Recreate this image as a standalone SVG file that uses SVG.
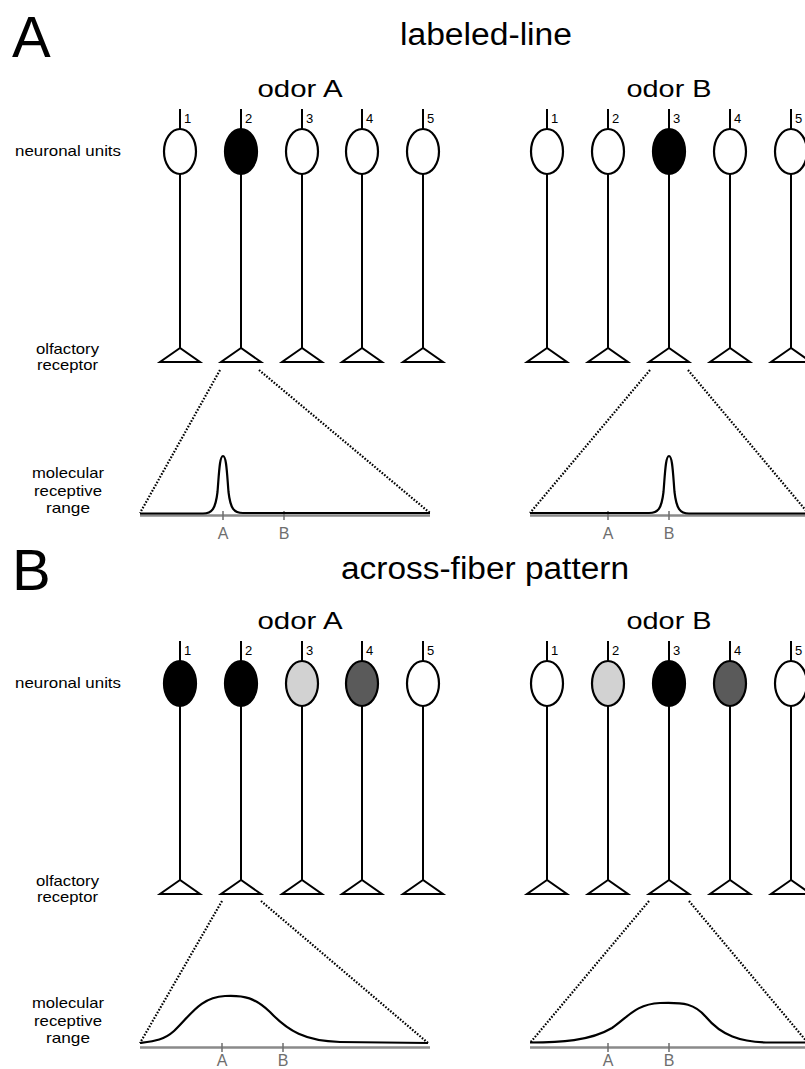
<svg xmlns="http://www.w3.org/2000/svg" xmlns:xlink="http://www.w3.org/1999/xlink" width="805" height="1069" viewBox="0 0 805 1069">
<style>
text{font-family:"Liberation Sans",Arial,sans-serif;fill:#000}
.big{font-size:58px}
.title{font-size:31px}
.odor{font-size:24px;text-anchor:middle}
.lbl{font-size:15px;text-anchor:middle}
.num{font-size:13px}
.tick{font-size:16px;fill:#6e6e6e;text-anchor:middle}
.ln{stroke:#000;stroke-width:2;fill:none}
.tri{stroke:#000;stroke-width:2;fill:#fff;stroke-linejoin:miter}
.cell{stroke:#000;stroke-width:2.2}
.w{fill:#fff}.k{fill:#000}.lg{fill:#d2d2d2}.dg{fill:#5a5a5a}
.axis{stroke:#8a8a8a;stroke-width:2.5;fill:none}
.tk{stroke:#6e6e6e;stroke-width:1.5}
.curve{stroke:#000;stroke-width:2.2;fill:none;stroke-linejoin:round}
.dot{stroke:#000;stroke-width:2.2;stroke-dasharray:1.6 1.6;fill:none}
</style>
<defs>
<g id="nrn">
<line class="ln" x1="0" y1="109" x2="0" y2="348"/>
<polygon class="tri" points="0,348 -20,362 20,362"/>
</g>
</defs>

<!-- Panel labels and titles -->
<text class="big" x="12" y="57">A</text>
<text class="title" x="400" y="45" textLength="172" lengthAdjust="spacingAndGlyphs">labeled-line</text>
<text class="big" x="12" y="590">B</text>
<text class="title" x="341" y="579" textLength="288" lengthAdjust="spacingAndGlyphs">across-fiber pattern</text>

<text class="odor" x="300" y="97" textLength="85" lengthAdjust="spacingAndGlyphs">odor A</text>
<text class="odor" x="669" y="97" textLength="85" lengthAdjust="spacingAndGlyphs">odor B</text>
<text class="odor" x="300" y="629" textLength="85" lengthAdjust="spacingAndGlyphs">odor A</text>
<text class="odor" x="669" y="629" textLength="85" lengthAdjust="spacingAndGlyphs">odor B</text>

<!-- row labels -->
<g id="labels-A">
<text x="15" y="156" style="font-size:15px" textLength="106" lengthAdjust="spacingAndGlyphs">neuronal units</text>
<text class="lbl" x="67.5" y="354" textLength="63" lengthAdjust="spacingAndGlyphs">olfactory</text>
<text class="lbl" x="67.5" y="370" textLength="61" lengthAdjust="spacingAndGlyphs">receptor</text>
<text class="lbl" x="68" y="478" textLength="72" lengthAdjust="spacingAndGlyphs">molecular</text>
<text class="lbl" x="68" y="496" textLength="68" lengthAdjust="spacingAndGlyphs">receptive</text>
<text class="lbl" x="68" y="512.5" textLength="44" lengthAdjust="spacingAndGlyphs">range</text>
</g>
<g id="labels-B" transform="translate(0,532)">
<text x="15" y="156" style="font-size:15px" textLength="106" lengthAdjust="spacingAndGlyphs">neuronal units</text>
<text class="lbl" x="67.5" y="354" textLength="63" lengthAdjust="spacingAndGlyphs">olfactory</text>
<text class="lbl" x="67.5" y="370" textLength="61" lengthAdjust="spacingAndGlyphs">receptor</text>
<text class="lbl" x="68" y="476" textLength="72" lengthAdjust="spacingAndGlyphs">molecular</text>
<text class="lbl" x="68" y="494" textLength="68" lengthAdjust="spacingAndGlyphs">receptive</text>
<text class="lbl" x="68" y="510.5" textLength="44" lengthAdjust="spacingAndGlyphs">range</text>
</g>

<!-- Panel A, odor A -->
<g id="A-oA-1" transform="translate(180,0)"><use xlink:href="#nrn"/><ellipse class="cell w" cx="0" cy="151.5" rx="16" ry="22.5"/><text class="num" x="4" y="123">1</text></g>
<g id="A-oA-2" transform="translate(241,0)"><use xlink:href="#nrn"/><ellipse class="cell k" cx="0" cy="151.5" rx="16" ry="22.5"/><text class="num" x="4" y="123">2</text></g>
<g id="A-oA-3" transform="translate(302,0)"><use xlink:href="#nrn"/><ellipse class="cell w" cx="0" cy="151.5" rx="16" ry="22.5"/><text class="num" x="4" y="123">3</text></g>
<g id="A-oA-4" transform="translate(362,0)"><use xlink:href="#nrn"/><ellipse class="cell w" cx="0" cy="151.5" rx="16" ry="22.5"/><text class="num" x="4" y="123">4</text></g>
<g id="A-oA-5" transform="translate(423,0)"><use xlink:href="#nrn"/><ellipse class="cell w" cx="0" cy="151.5" rx="16" ry="22.5"/><text class="num" x="4" y="123">5</text></g>
<!-- Panel A, odor B -->
<g id="A-oB-1" transform="translate(547,0)"><use xlink:href="#nrn"/><ellipse class="cell w" cx="0" cy="151.5" rx="16" ry="22.5"/><text class="num" x="4" y="123">1</text></g>
<g id="A-oB-2" transform="translate(608,0)"><use xlink:href="#nrn"/><ellipse class="cell w" cx="0" cy="151.5" rx="16" ry="22.5"/><text class="num" x="4" y="123">2</text></g>
<g id="A-oB-3" transform="translate(669,0)"><use xlink:href="#nrn"/><ellipse class="cell k" cx="0" cy="151.5" rx="16" ry="22.5"/><text class="num" x="4" y="123">3</text></g>
<g id="A-oB-4" transform="translate(730,0)"><use xlink:href="#nrn"/><ellipse class="cell w" cx="0" cy="151.5" rx="16" ry="22.5"/><text class="num" x="4" y="123">4</text></g>
<g id="A-oB-5" transform="translate(791,0)"><use xlink:href="#nrn"/><ellipse class="cell w" cx="0" cy="151.5" rx="16" ry="22.5"/><text class="num" x="4" y="123">5</text></g>

<!-- Panel B, odor A -->
<g id="B-oA-1" transform="translate(180,532)"><use xlink:href="#nrn"/><ellipse class="cell k" cx="0" cy="151.5" rx="16" ry="22.5"/><text class="num" x="4" y="123">1</text></g>
<g id="B-oA-2" transform="translate(241,532)"><use xlink:href="#nrn"/><ellipse class="cell k" cx="0" cy="151.5" rx="16" ry="22.5"/><text class="num" x="4" y="123">2</text></g>
<g id="B-oA-3" transform="translate(302,532)"><use xlink:href="#nrn"/><ellipse class="cell lg" cx="0" cy="151.5" rx="16" ry="22.5"/><text class="num" x="4" y="123">3</text></g>
<g id="B-oA-4" transform="translate(362,532)"><use xlink:href="#nrn"/><ellipse class="cell dg" cx="0" cy="151.5" rx="16" ry="22.5"/><text class="num" x="4" y="123">4</text></g>
<g id="B-oA-5" transform="translate(423,532)"><use xlink:href="#nrn"/><ellipse class="cell w" cx="0" cy="151.5" rx="16" ry="22.5"/><text class="num" x="4" y="123">5</text></g>
<!-- Panel B, odor B -->
<g id="B-oB-1" transform="translate(547,532)"><use xlink:href="#nrn"/><ellipse class="cell w" cx="0" cy="151.5" rx="16" ry="22.5"/><text class="num" x="4" y="123">1</text></g>
<g id="B-oB-2" transform="translate(608,532)"><use xlink:href="#nrn"/><ellipse class="cell lg" cx="0" cy="151.5" rx="16" ry="22.5"/><text class="num" x="4" y="123">2</text></g>
<g id="B-oB-3" transform="translate(669,532)"><use xlink:href="#nrn"/><ellipse class="cell k" cx="0" cy="151.5" rx="16" ry="22.5"/><text class="num" x="4" y="123">3</text></g>
<g id="B-oB-4" transform="translate(730,532)"><use xlink:href="#nrn"/><ellipse class="cell dg" cx="0" cy="151.5" rx="16" ry="22.5"/><text class="num" x="4" y="123">4</text></g>
<g id="B-oB-5" transform="translate(791,532)"><use xlink:href="#nrn"/><ellipse class="cell w" cx="0" cy="151.5" rx="16" ry="22.5"/><text class="num" x="4" y="123">5</text></g>

<!-- receptive range plots -->
<g id="plot-A-oA">
<line class="axis" x1="140" y1="515.5" x2="430" y2="515.5"/>
<line class="tk" x1="223" y1="511" x2="223" y2="520"/>
<line class="tk" x1="284" y1="511" x2="284" y2="520"/>
<text class="tick" x="223" y="539">A</text>
<text class="tick" x="284" y="539">B</text>
<path class="curve" d="M140,513.5 H203 C212,513.5 215.5,509 217.5,492 C219,474 219.5,456 223,456 C226.5,456 227,474 228.5,492 C230.5,509 234,513 243,513 H430"/>
</g>
<g id="plot-A-oB">
<line class="axis" x1="530" y1="515.5" x2="810" y2="515.5"/>
<line class="tk" x1="608" y1="511" x2="608" y2="520"/>
<line class="tk" x1="669" y1="511" x2="669" y2="520"/>
<text class="tick" x="608" y="539">A</text>
<text class="tick" x="669" y="539">B</text>
<path class="curve" d="M530,513 H649 C658,513 661.5,509 663.5,492 C665,474 665.5,456 669,456 C672.5,456 673,474 674.5,492 C676.5,509 680,513.5 689,513.5 H810"/>
</g>
<g id="plot-B-oA">
<line class="axis" x1="140" y1="1047.5" x2="430" y2="1047.5"/>
<line class="tk" x1="222" y1="1043" x2="222" y2="1052"/>
<line class="tk" x1="283" y1="1043" x2="283" y2="1052"/>
<text class="tick" x="222" y="1066">A</text>
<text class="tick" x="283" y="1066">B</text>
<path class="curve" d="M140,1043 C155,1041 164,1040 174,1031 C190,1016 200,997 225,996 C245,995 255,998 270,1012 C288,1031 305,1041 340,1042 L428,1043"/>
</g>
<g id="plot-B-oB">
<line class="axis" x1="530" y1="1047.5" x2="810" y2="1047.5"/>
<line class="tk" x1="608" y1="1043" x2="608" y2="1052"/>
<line class="tk" x1="669" y1="1043" x2="669" y2="1052"/>
<text class="tick" x="608" y="1066">A</text>
<text class="tick" x="669" y="1066">B</text>
<path class="curve" d="M530,1042.5 C560,1042.5 590,1041 612,1028 C628,1017 636,1004 660,1003 C684,1002 695,1004 706,1017 C721,1035 740,1042.5 770,1042.5 L810,1042.5"/>
</g>

<!-- connectors: dotted projection lines -->
<g id="connectors">
<line class="dot" x1="220" y1="370" x2="140" y2="513"/>
<line class="dot" x1="259" y1="370" x2="430" y2="513"/>
<line class="dot" x1="650" y1="370" x2="530" y2="513"/>
<line class="dot" x1="688" y1="370" x2="808" y2="513"/>
<line class="dot" x1="222" y1="901" x2="140" y2="1043"/>
<line class="dot" x1="261" y1="901" x2="428" y2="1043"/>
<line class="dot" x1="649" y1="901" x2="530" y2="1043"/>
<line class="dot" x1="689" y1="901" x2="808" y2="1043"/>
</g>
</svg>
